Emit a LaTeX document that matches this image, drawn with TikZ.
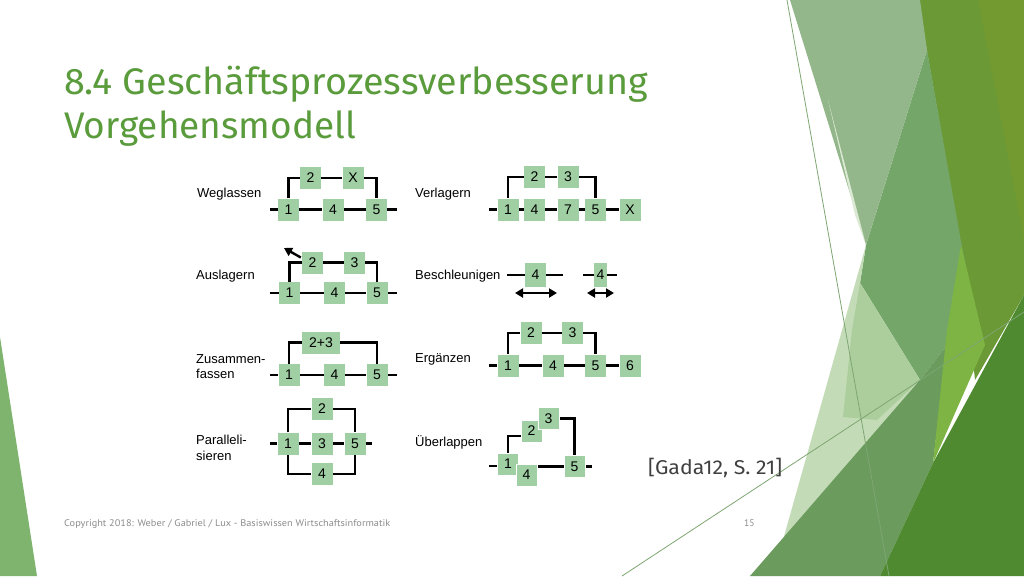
\documentclass[tikz,border=0pt]{standalone}
\usepackage{fontspec}
\usepackage{graphicx}
\setmainfont{Liberation Sans}
\newfontfamily\titlef{PT Sans}
\newfontfamily\titlefb{Fira Sans}
\usetikzlibrary{arrows.meta}
\pgfdeclarelayer{back}
\pgfdeclarelayer{lines}
\pgfsetlayers{back,lines,main}
\definecolor{boxg}{HTML}{A0CFA3}
\definecolor{titleg}{HTML}{5A9B3C}
\definecolor{footg}{HTML}{8C8C8C}
\definecolor{gadac}{HTML}{404040}
\definecolor{sage}{HTML}{93B68A}
\definecolor{olive}{HTML}{6B9936}
\definecolor{olivetwo}{HTML}{729A31}
\definecolor{medgreen}{HTML}{74A66A}
\definecolor{palegreen}{HTML}{C3DCB7}
\definecolor{vpale}{HTML}{DCEAD5}
\definecolor{lgreen}{HTML}{ACCE9D}
\definecolor{mlow}{HTML}{6B9B5D}
\definecolor{brightg}{HTML}{7DB443}
\definecolor{darkg}{HTML}{4F8A31}
\definecolor{leftg}{HTML}{7FB46F}
\definecolor{thing}{HTML}{7EA672}
\newlength\fitlen
\newcommand\fitto[2]{\settowidth\fitlen{#2}\pgfmathsetmacro\fitsc{#1/\fitlen}\scalebox{\fitsc}[1]{#2}}
\begin{document}
\begin{tikzpicture}[x=1pt,y=-1pt,
  box/.style={rectangle,fill=boxg,minimum width=21pt,minimum height=22pt,inner sep=0pt,font=\fontsize{14}{14}\selectfont},
  ubox/.style={box,draw=white,line width=0.7pt},
  conn/.style={line width=2.4pt,black},
  lbl/.style={anchor=base west,inner sep=0pt,font=\fontsize{13}{15.5}\selectfont},
  lbltwo/.style={anchor=west,inner sep=0pt,align=left,font=\fontsize{13}{15.5}\selectfont},
  tip/.style={line width=2.4pt,black,-{Triangle[length=8pt,width=9pt]}},
  dbl/.style={line width=2.4pt,black,{Triangle[length=8pt,width=9pt]}-{Triangle[length=8pt,width=9pt]}}]
\useasboundingbox (0,0) rectangle (1024,576);
\begin{pgfonlayer}{back}
\fill[white] (0,0) rectangle (1024,576);
% right decoration
\fill[olive] (918,0) -- (1024,0) -- (1024,295) -- (975,380) -- (961,245) -- cycle;
\fill[olivetwo] (978,0) -- (1024,0) -- (1024,240) -- cycle;
\fill[medgreen] (927,50) -- (962,247) -- (975,310) -- (947,345) -- (920,380) -- (860,283) -- (866,245) -- cycle;
\fill[sage] (790,0) -- (920,0) -- (927,50) -- (866,245) -- cycle;
\fill[vpale] (828,100) -- (866,245) -- (855,215) -- cycle;
\fill[palegreen] (866,245) -- (860,283) -- (920,380) -- (783,540) -- cycle;
\fill[lgreen] (860,283) -- (920,380) -- (877,420) -- (843,417) -- (852,330) -- cycle;
\fill[mlow] (750,576) -- (920,380) -- (947,345) -- (933,463) -- (880,576) -- cycle;
\fill[brightg] (961,245) -- (985,345) -- (933,463) -- (947,330) -- cycle;
\fill[darkg] (1024,295) -- (1024,576) -- (880,576) -- (933,463) -- cycle;
\draw[thing,line width=0.8pt] (787,0) -- (889,576);
\draw[thing,line width=0.8pt] (622,576) -- (1024,312);
% left decoration
\fill[leftg] (0,337) -- (37,576) -- (0,576) -- cycle;
\end{pgfonlayer}

% title and texts
\node[anchor=base west,inner sep=0pt,text=titleg,font=\titlefb\fontsize{37}{44}\selectfont] (title1) at (64,94) {\fitto{584}{8.4 Geschäftsprozessverbesserung}};
\node[anchor=base west,inner sep=0pt,text=titleg,font=\titlefb\fontsize{37}{44}\selectfont] (title2) at (64,138) {\fitto{292}{Vorgehensmodell}};
\node[anchor=base west,inner sep=0pt,text=footg,font=\titlef\fontsize{9.6}{10}\selectfont] (foot) at (64,526.5) {\fitto{326}{Copyright 2018: Weber / Gabriel / Lux - Basiswissen Wirtschaftsinformatik}};
\node[anchor=base west,inner sep=0pt,text=footg,font=\titlef\fontsize{9.6}{10}\selectfont] (page) at (744,526.5) {15};
\node[anchor=base west,inner sep=0pt,text=gadac,font=\titlefb\fontsize{20}{20}\selectfont] (src) at (648,474) {\fitto{134}{[Gada12, S. 21]}};

% ---- Weglassen
\node[lbl] (tweg) at (197,197.5) {Weglassen};
\node[box] (w1) at (288.5,209.5) {1};
\node[box] (w4) at (333,209.5) {4};
\node[box] (w5) at (376.5,209.5) {5};
\node[box] (w2) at (310.5,178) {2};
\node[box] (wX) at (353,178) {X};
\coordinate (wL) at (270,209.5);
\coordinate (wR) at (397,209.5);

% ---- Verlagern
\node[lbl] (tver) at (415,197.5) {Verlagern};
\node[box] (v1) at (508,209.5) {1};
\node[box] (v4) at (534.5,209.5) {4};
\node[box] (v7) at (568,209.5) {7};
\node[box] (v5) at (595.5,209.5) {5};
\node[box] (vX) at (630,209.5) {X};
\node[box] (v2) at (534.5,177) {2};
\node[box] (v3) at (568,177) {3};
\coordinate (vL) at (489,209.5);

% ---- Auslagern
\node[lbl] (taus) at (196,279.5) {Auslagern};
\node[box] (a1) at (289.5,293) {1};
\node[box] (a4) at (334.5,293) {4};
\node[box] (a5) at (377,293) {5};
\node[box] (a2) at (312.5,262.5) {2};
\node[box] (a3) at (354.5,262.5) {3};
\coordinate (aL) at (270,293);
\coordinate (aR) at (397,293);
\coordinate (atip) at (284,248);

% ---- Beschleunigen
\node[lbl] (tbes) at (415,279.5) {Beschleunigen};
\node[box,minimum height=24pt] (b4) at (535.5,275) {4};
\node[box,minimum height=24pt,minimum width=13pt] (bs) at (600.5,275) {4};
\coordinate (bL) at (507,275);
\coordinate (bR) at (563,275);
\coordinate (bA) at (515,293);
\coordinate (bB) at (557,293);
\coordinate (sL) at (583,275);
\coordinate (sR) at (617,275);
\coordinate (sA) at (587,293);
\coordinate (sB) at (614,293);

% ---- Zusammenfassen
\node[lbltwo] (tzus) at (196,366.5) {Zusammen-\\fassen};
\node[box] (z1) at (289,375) {1};
\node[box] (z4) at (334.5,375) {4};
\node[box] (z5) at (377,375) {5};
\node[box,minimum width=38pt] (z23) at (321,342.5) {2+3};
\coordinate (zL) at (270,375);
\coordinate (zR) at (397,375);

% ---- Ergänzen
\node[lbl] (terg) at (415,362.5) {Ergänzen};
\node[box] (e1) at (508,365.5) {1};
\node[box] (e4) at (553,365.5) {4};
\node[box] (e5) at (595.5,365.5) {5};
\node[box] (e6) at (630,365.5) {6};
\node[box] (e2) at (531,333) {2};
\node[box] (e3) at (572.5,333) {3};
\coordinate (eL) at (489,365.5);

% ---- Parallelisieren
\node[lbltwo,font=\fontsize{13}{16}\selectfont] (tpar) at (196,448) {Paralleli-\\sieren};
\node[box] (p1) at (288,443.5) {1};
\node[box] (p3) at (322,443.5) {3};
\node[box] (p5) at (355,443.5) {5};
\node[box] (p2) at (322,409) {2};
\node[box] (p4) at (322,474) {4};
\coordinate (pL) at (270,443.5);
\coordinate (pR) at (372,443.5);

% ---- Überlappen
\node[lbl] (tueb) at (415,446.5) {Überlappen};
\node[ubox] (u1) at (508,464) {1};
\node[ubox] (u4) at (526.5,475) {4};
\node[ubox] (u5) at (574.5,466.5) {5};
\node[ubox] (u2) at (531.5,431) {2};
\node[ubox] (u3) at (548.5,418.5) {3};
\coordinate (uL) at (489,466);
\coordinate (uR) at (592,466.5);
\coordinate (uJ) at (531.5,436);

\begin{pgfonlayer}{lines}
% Weglassen
\draw[conn] (wL) -- (w1) -- (w4) -- (w5) -- (wR);
\draw[conn] (w1) |- (w2) -- (wX) -| (w5);
% Verlagern
\draw[conn] (vL) -- (v1) -- (v4) -- (v7) -- (v5) -- (vX);
\draw[conn] (v1) |- (v2) -- (v3) -| (v5);
% Auslagern
\draw[conn] (aL) -- (a1) -- (a4) -- (a5) -- (aR);
\draw[conn] (a1) |- (a2) -- (a3) -| (a5);
% Beschleunigen
\draw[conn] (bL) -- (b4) -- (bR);
\draw[conn] (sL) -- (bs) -- (sR);
% Zusammenfassen
\draw[conn] (zL) -- (z1) -- (z4) -- (z5) -- (zR);
\draw[conn] (z1) |- (z23) -| (z5);
% Ergänzen
\draw[conn] (eL) -- (e1) -- (e4) -- (e5) -- (e6);
\draw[conn] (e1) |- (e2) -- (e3) -| (e5);
% Parallelisieren
\draw[conn] (pL) -- (p1) -- (p3) -- (p5) -- (pR);
\draw[conn] (p1) |- (p2) -| (p5);
\draw[conn] (p1) |- (p4) -| (p5);
% Überlappen
\draw[conn] (uL) -- (uL -| u1);
\draw[conn] (u5) -- (u5 -| u4);
\draw[conn] (u5) -- (uR);
\draw[conn] (u1) |- (uJ);
\draw[conn] (u3) -| (u5);
\end{pgfonlayer}
% arrows
\draw[tip] ([xshift=-1pt,yshift=5pt]a2.west) -- (atip);
\draw[dbl] (bA) -- (bB);
\draw[dbl] (sA) -- (sB);
\end{tikzpicture}
\end{document}
